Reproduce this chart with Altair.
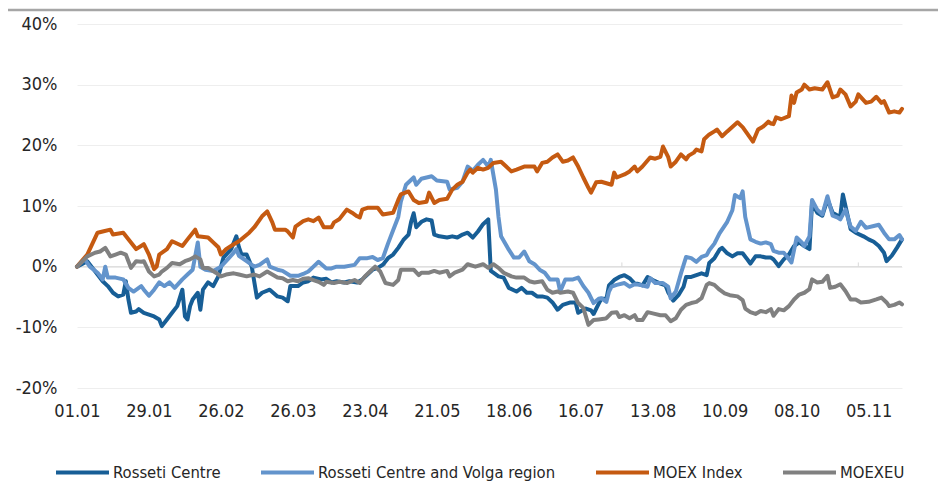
import json
import altair as alt
import pandas as pd

FONT = "DejaVu Sans Condensed, Liberation Sans Narrow, Arial Narrow, sans-serif"

SERIES = ["Rosseti Centre", "Rosseti Centre and Volga region", "MOEX Index", "MOEXEU"]
COLORS = ["#175E96", "#6394CC", "#C55A11", "#808080"]

# day offset from 01.01 for the date axis labels
TICK_DAYS = [0, 28, 56, 84, 112, 140, 168, 196, 224, 252, 280, 308]
TICK_LABELS = ["01.01", "29.01", "26.02", "26.03", "23.04", "21.05", "18.06",
               "16.07", "13.08", "10.09", "08.10", "05.11"]
MONTH_TICKS = [31, 120, 212, 304]
Y_TICKS = [-20, -10, 0, 10, 20, 30, 40]

RC_DAYS = [0, 4, 6, 8, 10, 12, 14, 16, 18, 19, 20, 21, 23, 24, 26, 28, 30, 32, 33, 35, 37, 39, 41, 42, 43, 44, 45, 47, 48, 49,
           51, 53, 55, 57, 60, 62, 63, 64, 66, 68, 70, 72, 75, 78, 80, 82, 83, 86, 88, 90, 92, 95, 97, 99, 101, 104, 106, 109,
           111, 113, 115, 117, 119, 121, 123, 125, 127, 129, 130, 131, 132, 134, 136, 138, 139, 141, 144, 146, 148, 150, 152,
           154, 156, 158, 160, 161, 162, 164, 166, 168, 171, 173, 175, 177, 179, 181, 183, 185, 187, 189, 192, 194, 195, 197,
           198, 200, 201, 203, 204, 206, 207, 209, 211, 213, 215, 217, 218, 220, 222, 224, 227, 229, 230, 232, 234, 236, 237,
           239, 241, 243, 245, 246, 248, 250, 251, 253, 255, 257, 259, 261, 262, 264, 266, 268, 270, 271, 273, 275, 277, 279,
           281, 283, 285, 286, 288, 290, 292, 294, 296, 297, 298, 299, 301, 303, 306, 308, 310, 312, 314, 315, 317, 319, 321]
RC_VALS = [0.0, 0.9, -0.2, -1.3, -2.4, -3.2, -4.3, -4.9, -4.6, -2.4, -5.4, -7.6, -7.4, -7.0, -7.6, -7.9, -8.2, -8.7, -9.8, -8.7,
           -7.6, -6.5, -3.8, -8.2, -8.7, -6.5, -5.4, -4.3, -7.1, -3.8, -2.6, -3.2, -1.6, 1.5, 2.9, 5.0, 3.2, 2.0, 2.0, 0.0, -5.1,
           -4.3, -3.8, -4.9, -5.1, -5.7, -3.2, -3.2, -2.6, -2.4, -1.8, -2.1, -2.0, -2.6, -2.4, -2.6, -2.4, -2.6, -2.1, -1.3, -0.5,
           -0.2, 0.3, 1.4, 2.0, 3.1, 4.4, 5.3, 7.4, 8.8, 6.5, 7.4, 7.8, 7.6, 5.3, 5.0, 4.8, 5.0, 4.8, 5.3, 5.6, 4.8, 5.8, 7.0, 7.8,
           -0.7, -1.0, -1.6, -1.8, -3.5, -4.1, -3.5, -4.3, -4.3, -4.9, -4.9, -5.1, -5.9, -7.1, -6.3, -5.9, -5.9, -7.6, -7.1, -6.9,
           -7.2, -7.8, -6.1, -5.3, -5.3, -3.1, -2.2, -1.7, -1.4, -1.9, -2.8, -2.8, -3.1, -1.7, -2.2, -2.8, -3.1, -4.2, -5.6, -4.7,
           -3.3, -1.7, -1.7, -1.4, -1.1, -1.4, 0.6, 1.4, 2.8, 3.1, 2.2, 1.7, 2.2, 2.2, 1.1, 0.5, 1.7, 1.7, 1.5, 1.5, 1.2, 0.1, 1.2,
           2.0, 3.4, 4.0, 3.4, 2.9, 10.5, 8.9, 8.4, 11.1, 8.9, 8.4, 8.4, 11.9, 10.0, 6.2, 5.6, 5.0, 4.5, 4.1, 3.4, 2.3, 0.9, 1.8,
           3.1, 4.5]

RCV_DAYS = [0, 3, 5, 8, 10, 11, 12, 15, 18, 20, 22, 25, 26, 28, 30, 32, 34, 36, 38, 41, 43, 45, 47, 48, 50, 53, 56, 58, 61,
            62, 63, 66, 69, 71, 74, 75, 78, 80, 83, 86, 88, 90, 92, 94, 97, 99, 101, 104, 108, 110, 113, 115, 117, 119, 121,
            123, 125, 126, 128, 131, 132, 134, 138, 140, 144, 145, 148, 150, 152, 154, 156, 158, 160, 161, 163, 164, 165, 168,
            170, 172, 174, 176, 178, 180, 182, 184, 187, 188, 190, 193, 195, 197, 199, 201, 203, 204, 206, 207, 208, 210, 213,
            215, 217, 219, 222, 223, 225, 228, 230, 231, 233, 235, 237, 239, 241, 243, 245, 246, 248, 250, 253, 255, 256, 258,
            259, 260, 262, 264, 266, 268, 270, 271, 273, 275, 276, 278, 280, 282, 283, 285, 286, 288, 290, 292, 294, 296, 297,
            299, 301, 303, 305, 307, 310, 312, 314, 316, 318, 320, 321]
RCV_VALS = [0.0, 1.2, 0.0, -1.0, -2.1, 0.0, -1.8, -1.8, -2.1, -3.5, -4.1, -3.2, -3.8, -4.8, -3.8, -2.6, -3.2, -2.6, -3.5, -2.1,
            -1.3, -0.5, 4.0, 0.0, -0.5, -0.7, 0.0, 0.9, 2.3, 2.9, 1.8, 0.9, 0.0, 0.3, 1.2, 0.0, -0.5, -0.7, -1.5, -1.5, -1.2,
            -0.8, 0.0, 0.8, -0.3, -0.3, 0.0, 0.0, 0.3, 1.4, 1.4, 1.6, 1.1, 1.4, 3.8, 6.0, 8.2, 10.7, 13.5, 14.7, 13.5, 14.5, 14.9,
            14.2, 14.0, 12.7, 13.0, 14.0, 16.5, 15.8, 16.8, 17.6, 16.5, 17.6, 12.7, 8.2, 5.0, 2.8, 1.5, 1.5, 2.5, 0.9, 0.4, -0.5,
            -1.0, -2.1, -2.1, -4.1, -2.1, -2.1, -1.8, -3.2, -4.3, -6.0, -5.3, -5.2, -5.8, -4.1, -3.3, -3.0, -2.7, -3.3, -2.9, -3.0,
            -3.3, -1.9, -2.7, -2.7, -3.3, -5.2, -4.1, -1.1, 1.6, 1.4, 0.8, 1.6, 1.9, 2.7, 3.8, 5.5, 7.4, 9.3, 11.8, 11.3, 12.4,
            8.2, 4.5, 4.1, 3.8, 4.0, 3.7, 2.6, 2.3, 2.3, 1.8, 0.7, 4.8, 4.0, 3.4, 5.0, 11.0, 9.4, 8.6, 11.6, 8.4, 8.1, 7.8, 9.4,
            6.6, 5.9, 7.4, 6.4, 6.7, 6.9, 5.6, 4.5, 4.5, 5.2, 4.5]

MOEX_DAYS = [0, 4, 8, 10, 13, 14, 18, 21, 23, 26, 28, 30, 31, 32, 35, 37, 41, 43, 46, 47, 51, 53, 55, 56, 58, 61, 63, 67, 69,
             72, 74, 76, 77, 81, 82, 84, 85, 88, 90, 92, 94, 96, 99, 100, 102, 104, 105, 107, 109, 110, 111, 113, 117, 119,
             123, 125, 126, 129, 131, 133, 136, 137, 139, 141, 144, 146, 148, 150, 152, 153, 154, 156, 158, 160, 162, 165, 167,
             169, 171, 174, 178, 179, 181, 183, 185, 187, 189, 191, 193, 195, 197, 199, 200, 202, 204, 208, 209, 210, 213, 215,
             217, 218, 220, 223, 225, 227, 228, 230, 231, 233, 235, 237, 238, 240, 241, 243, 244, 246, 248, 249, 251, 253, 257,
             259, 261, 263, 265, 267, 269, 270, 271, 272, 274, 277, 278, 279, 280, 282, 283, 285, 287, 290, 292, 294, 296, 297,
             299, 301, 303, 304, 307, 309, 311, 313, 314, 316, 318, 320, 321]
MOEX_VALS = [0.0, 2.0, 5.6, 5.8, 6.1, 5.3, 5.6, 4.0, 2.9, 3.7, 2.0, -0.4, 0.0, 2.0, 2.9, 4.2, 3.4, 4.5, 6.1, 5.0, 4.8, 4.0, 3.2,
             2.0, 2.9, 3.7, 4.2, 5.6, 6.5, 8.3, 9.1, 7.3, 6.1, 6.1, 5.8, 4.8, 6.6, 7.5, 7.8, 7.5, 8.1, 6.5, 6.5, 7.3, 7.8, 8.9,
             9.4, 8.9, 8.3, 8.1, 9.4, 9.7, 9.7, 8.6, 8.9, 11.0, 11.9, 12.4, 11.0, 10.5, 10.7, 12.2, 10.5, 11.0, 11.2, 12.7, 13.5,
             14.0, 15.5, 16.0, 15.5, 16.3, 16.0, 16.3, 17.1, 17.3, 16.5, 15.7, 16.0, 16.5, 16.5, 15.7, 17.1, 17.3, 18.0, 18.5,
             17.3, 17.5, 18.0, 16.5, 14.7, 13.0, 12.2, 13.9, 14.0, 13.5, 15.5, 14.7, 15.2, 15.7, 16.5, 15.7, 16.5, 18.0, 17.8,
             18.1, 19.8, 18.1, 16.5, 17.3, 18.5, 17.7, 18.3, 18.8, 19.3, 19.0, 21.0, 21.8, 22.3, 22.6, 21.5, 22.3, 23.8, 23.0,
             21.8, 20.6, 22.6, 23.1, 23.9, 23.6, 23.5, 24.6, 24.3, 24.8, 28.2, 27.0, 28.7, 29.2, 30.0, 29.2, 29.4, 29.2, 30.4,
             27.9, 28.2, 29.2, 28.4, 26.4, 27.2, 28.4, 27.0, 27.2, 28.0, 27.0, 27.3, 25.4, 25.6, 25.4, 26.0]

EU_DAYS = [0, 4, 7, 9, 11, 13, 15, 17, 19, 20, 21, 23, 25, 26, 28, 30, 32, 33, 35, 37, 40, 42, 44, 46, 48, 49, 51, 54, 56, 58,
           61, 63, 66, 69, 71, 74, 76, 78, 80, 82, 84, 86, 88, 90, 92, 94, 96, 97, 100, 102, 105, 108, 110, 112, 114, 116, 118,
           120, 123, 125, 126, 129, 131, 133, 134, 137, 139, 141, 144, 145, 147, 150, 152, 155, 158, 160, 162, 164, 166, 169,
           171, 174, 176, 178, 181, 183, 185, 187, 188, 191, 193, 195, 197, 199, 201, 203, 205, 206, 208, 210, 211, 213, 215,
           217, 218, 220, 222, 224, 227, 229, 231, 233, 235, 237, 239, 241, 243, 245, 246, 248, 250, 252, 254, 257, 259, 260,
           262, 264, 266, 268, 270, 271, 273, 275, 277, 279, 281, 283, 285, 286, 288, 290, 292, 293, 295, 297, 299, 301, 303,
           305, 308, 311, 313, 315, 316, 318, 320, 321]
EU_VALS = [0.0, 1.7, 2.3, 2.5, 3.1, 1.7, 2.0, 2.3, 2.0, 0.9, -0.2, 0.9, 0.8, 0.9, -0.8, -1.6, -1.3, -0.8, -0.2, 0.6, 0.4, 0.9,
           1.2, 1.7, 1.2, -0.2, -0.2, -1.0, -1.6, -1.3, -1.1, -1.3, -1.6, -1.3, -1.6, -0.8, -1.3, -1.8, -1.9, -2.4, -2.2, -2.4,
           -2.0, -1.9, -2.2, -2.5, -3.0, -2.5, -2.7, -2.5, -2.7, -2.2, -2.7, -1.6, -0.8, 0.0, -0.8, -2.7, -3.0, -2.2, -0.5, -0.5,
           -0.5, -1.4, -1.0, -1.0, -0.7, -1.0, -0.7, -1.6, -1.0, -0.5, 0.4, 0.0, 0.4, -0.2, 0.4, -0.2, -1.0, -1.6, -1.8, -1.8,
           -2.4, -2.6, -2.4, -3.8, -4.3, -4.1, -4.3, -4.1, -4.3, -6.0, -6.8, -9.6, -8.8, -8.7, -8.6, -8.5, -7.6, -7.5, -8.3, -8.0,
           -8.5, -8.0, -8.8, -8.8, -7.5, -7.7, -8.0, -8.0, -9.0, -8.5, -7.1, -6.3, -6.0, -5.8, -5.2, -3.0, -2.7, -3.0, -3.8, -4.4,
           -4.7, -4.9, -5.5, -6.9, -7.5, -7.8, -7.3, -7.5, -7.0, -8.1, -7.0, -7.2, -6.5, -5.4, -4.6, -4.3, -3.7, -2.1, -2.6, -2.5,
           -1.5, -3.5, -3.3, -2.9, -4.0, -5.4, -5.4, -5.9, -5.8, -5.4, -5.1, -5.9, -6.5, -6.3, -5.9, -6.2]

series_data = [
    (SERIES[0], RC_DAYS, RC_VALS),
    (SERIES[1], RCV_DAYS, RCV_VALS),
    (SERIES[2], MOEX_DAYS, MOEX_VALS),
    (SERIES[3], EU_DAYS, EU_VALS),
]
rows = []
for name, days, vals in series_data:
    for d, v in zip(days, vals):
        rows.append({"series": name, "day": d, "value": v})
df = pd.DataFrame(rows)

x_label_expr = json.dumps(TICK_LABELS).replace('"', "'") + "[round(datum.value / 28)]"

x_enc = alt.X(
    "day:Q",
    scale=alt.Scale(domain=[0, 321], nice=False, zero=False),
    axis=alt.Axis(values=TICK_DAYS, labelExpr=x_label_expr, grid=False, domain=False, ticks=False,
                  labelPadding=14, title=None, labelFlush=False, labelOverlap=False),
)
y_enc = alt.Y(
    "value:Q",
    scale=alt.Scale(domain=[-20, 40], nice=False, zero=False),
    axis=alt.Axis(values=Y_TICKS, labelExpr="datum.value + '%'", grid=True, gridColor="#EEEEEE",
                  gridWidth=1, domain=False, ticks=False, labelPadding=20, title=None),
)

lines = alt.Chart(df).mark_line(strokeWidth=4, strokeJoin="round", strokeCap="round").encode(
    x=x_enc,
    y=y_enc,
    color=alt.Color(
        "series:N",
        scale=alt.Scale(domain=SERIES, range=COLORS),
        legend=alt.Legend(
            title=None, orient="none", legendX=-23, legendY=420, direction="horizontal", columns=4,
            symbolType="stroke", symbolSize=2809, symbolStrokeWidth=4, labelFontSize=16.5, labelFont=FONT,
            labelColor="#262626", columnPadding=32, labelOffset=2, labelLimit=400,
        ),
    ),
)

zero_line = alt.Chart(pd.DataFrame({"d": [0]})).mark_rule(color="#D9D9D9", strokeWidth=1).encode(
    y=alt.datum(0)
)
month_ticks = alt.Chart(pd.DataFrame({"day": MONTH_TICKS})).mark_rule(color="#D9D9D9", strokeWidth=1).encode(
    x="day:Q", y=alt.datum(0), y2=alt.datum(0.7)
)
top_border = alt.Chart(pd.DataFrame({"d": [0]})).mark_rule(color="#A6A6A6", strokeWidth=2.5).encode(
    x=alt.value(-69), x2=alt.value(869), y=alt.value(-14)
)

chart = alt.layer(zero_line, month_ticks, lines, top_border).properties(
    width=825,
    height=364,
    autosize=alt.AutoSizeParams(type="none"),
    padding={"left": 69, "top": 16, "right": 36, "bottom": 100},
).configure_view(stroke=None).configure_axis(
    labelFont=FONT, labelFontSize=18, labelColor="#262626"
)

chart.save("out.html", embed_options={"renderer": "svg", "actions": False})
